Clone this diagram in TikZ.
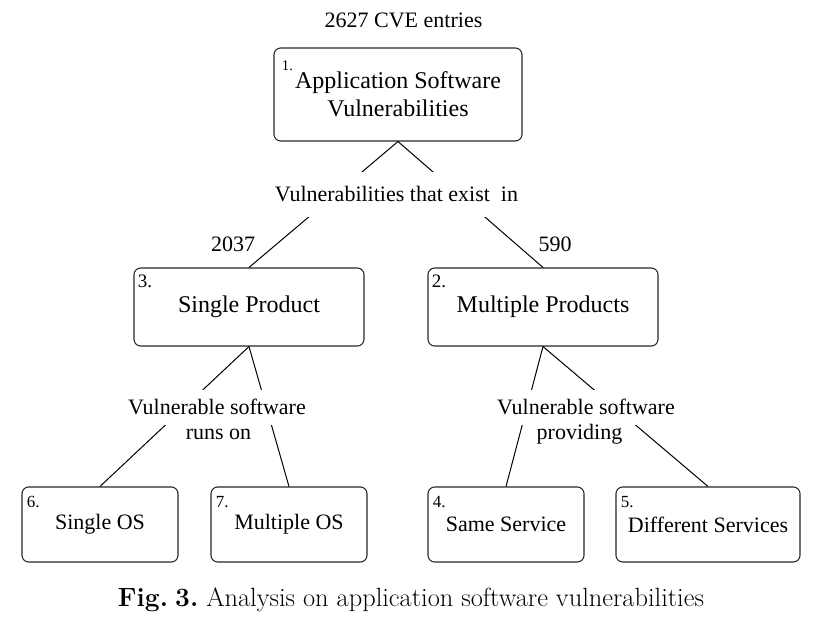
\documentclass[tikz,border=0pt]{standalone}
\usepackage{fontspec}
\newfontfamily\tmfont{Liberation Serif}
\newcommand{\bigsz}{\fontsize{18}{21}\selectfont}
\newcommand{\midsz}{\fontsize{16.5}{19}\selectfont}
\tikzset{
  box/.style={draw=black!85, line width=0.8pt, rounded corners=5pt, inner sep=0pt, align=center},
  topbox/.style={box, minimum width=172.5pt, minimum height=58.5pt, font=\tmfont\bigsz},
  osbox/.style={box, minimum width=117pt, minimum height=56.25pt, font=\tmfont\midsz},
  tag/.style={anchor=north west, inner sep=0pt},
  lbl/.style={anchor=base, inner sep=0pt, font=\tmfont\midsz},
}

\begin{document}
\begin{tikzpicture}[x=0.75pt, y=-0.75pt, line width=0.75pt]
	\useasboundingbox (0,0) rectangle (819,634);

	% boxes
	\node[box, minimum width=186pt, minimum height=69.75pt, font=\tmfont\bigsz] (app) at (398,94.5) {Application Software\\Vulnerabilities};
	\node[topbox] (single) at (249,307) {Single Product};
	\node[topbox] (multi) at (543,307) {Multiple Products};
	\node[osbox] (sos) at (100,524.5) {Single OS};
	\node[osbox] (mos) at (289,524.5) {Multiple OS};
	\node[osbox] (same) at (506,524.5) {Same Service};
	\node[osbox, minimum width=138pt] (diff) at (708,524.5) {Different Services};

	% numbers in the corners
	\node[tag, font=\tmfont\fontsize{11}{13}\selectfont] (n1) at ([shift={(8,13)}]app.north west) {1.};
	\node[tag, font=\tmfont\fontsize{14.25}{16}\selectfont] (n3) at ([shift={(4,7)}]single.north west) {3.};
	\node[tag, font=\tmfont\fontsize{14.25}{16}\selectfont] (n2) at ([shift={(4,7)}]multi.north west) {2.};
	\foreach \b/\n in {sos/6, mos/7, same/4, diff/5}
		\node[tag, font=\tmfont\fontsize{12.75}{15}\selectfont] (n\n) at ([shift={(5,9)}]\b.north west) {\n.};

	% connectors
	\draw (app.south) -- (single.north);
	\draw (app.south) -- (multi.north);
	\draw (single.south) -- (sos.north);
	\draw (single.south) -- (mos.north);
	\draw (multi.south) -- (same.north);
	\draw (multi.south) -- (diff.north);

	% texts on the connectors
	\node[lbl] (cve) at (403.5,28) {2627 CVE entries};
	\node[lbl, fill=white, inner xsep=2pt, inner ysep=11pt] (exist) at (396.5,201.7) {Vulnerabilities that exist\ \ in};
	\node[lbl] (c2037) at (233,251.7) {2037};
	\node[lbl] (c590) at (555,251.7) {590};
	\node[lbl, fill=white, inner xsep=2pt, inner ysep=7pt] (runs) at (217,415) {Vulnerable software};
	\node[lbl] (runson) at (218.5,440) {runs on};
	\node[lbl, fill=white, inner xsep=2pt, inner ysep=7pt] (prov) at (586,415) {Vulnerable software};
	\node[lbl] (providing) at (579.5,440) {providing};

	% caption
	\node[anchor=base, inner sep=0pt, font=\rmfamily\fontsize{19.8}{24}\selectfont] (caption) at (411,607) {\textbf{Fig.\hspace{0.27em}3.}\ Analysis on application software vulnerabilities};
\end{tikzpicture}
\end{document}
